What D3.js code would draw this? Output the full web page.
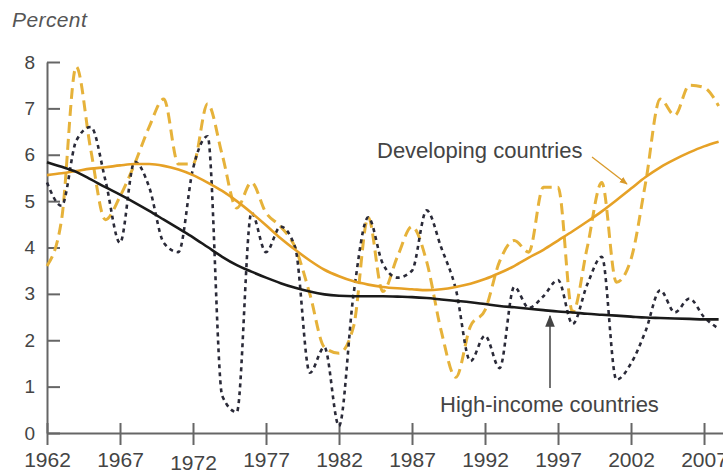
<!DOCTYPE html>
<html><head><meta charset="utf-8">
<script src="https://cdn.jsdelivr.net/npm/d3@7"></script>
<style>
html,body{margin:0;padding:0;background:#fff;}
svg{display:block;font-family:"Liberation Sans",Arial,Helvetica,sans-serif;}
</style></head>
<body><svg id="chart" width="723" height="475"></svg>
<script>
const years = d3.range(1962, 2009);
const developing = [3.6,4.6,7.9,6.1,4.6,5.1,5.8,6.6,7.2,5.8,5.8,7.1,6.0,4.85,5.4,4.75,4.45,4.0,3.0,1.85,1.72,2.3,4.65,3.05,3.8,4.45,3.7,2.2,1.2,2.3,2.65,3.7,4.15,3.9,5.3,5.3,2.6,4.0,5.4,3.25,3.75,5.4,7.2,6.85,7.5,7.45,7.05];
const highIncome = [5.4,4.9,6.3,6.6,5.45,4.1,5.85,5.3,4.1,3.9,5.7,6.4,0.8,0.45,4.75,3.9,4.45,4.0,1.3,1.85,0.15,3.0,4.65,3.65,3.35,3.5,4.8,4.0,3.1,1.55,2.1,1.4,3.15,2.7,2.95,3.3,2.35,3.2,3.8,1.15,1.5,2.2,3.08,2.6,2.9,2.5,2.25];
const developingTrend = [5.56,5.6,5.65,5.7,5.73,5.77,5.8,5.8,5.76,5.68,5.56,5.4,5.22,5.0,4.75,4.48,4.2,3.95,3.72,3.52,3.38,3.27,3.2,3.15,3.12,3.1,3.08,3.1,3.15,3.22,3.32,3.45,3.6,3.78,3.95,4.15,4.35,4.56,4.78,5.02,5.27,5.52,5.73,5.9,6.05,6.18,6.28];
const highTrend = [5.84,5.74,5.63,5.47,5.3,5.14,4.97,4.79,4.6,4.41,4.22,4.01,3.8,3.62,3.48,3.35,3.23,3.13,3.05,2.99,2.96,2.95,2.95,2.95,2.94,2.93,2.91,2.88,2.85,2.82,2.78,2.74,2.71,2.68,2.65,2.62,2.6,2.57,2.55,2.53,2.51,2.49,2.48,2.47,2.46,2.45,2.45];
const xTicks = [1962,1967,1972,1977,1982,1987,1992,1997,2002,2007];
const yTicks = [0,1,2,3,4,5,6,7,8];

const svg = d3.select("#chart");
const x = d3.scaleLinear().domain([1962, 2008.3]).range([47, 723]);
const y = d3.scaleLinear().domain([0, 8]).range([433, 62]);
const axisColor = "#666";

// y axis
const ya = svg.append("g").attr("transform","translate(47,0)")
  .call(d3.axisLeft(y).tickValues(yTicks).tickFormat(d3.format("d")).tickSize(-13).tickSizeOuter(0).tickPadding(12));
ya.select(".domain").attr("stroke",axisColor).attr("stroke-width",2);
ya.selectAll(".tick line").attr("stroke",axisColor).attr("stroke-width",2);
ya.selectAll(".tick text").attr("fill","#444").attr("font-size",19);

// x axis
const xa = svg.append("g").attr("transform","translate(0,433)")
  .call(d3.axisBottom(x).tickValues(xTicks).tickFormat(d3.format("d")).tickSize(12).tickSizeOuter(0).tickPadding(7));
xa.select(".domain").attr("stroke",axisColor).attr("stroke-width",2);
xa.selectAll(".tick line").attr("stroke",axisColor).attr("stroke-width",2).attr("y1",-10);
xa.selectAll(".tick text").attr("fill","#444").attr("font-size",21)
  .attr("dy", d => d === 1972 ? "0.86em" : "0.72em");

const line = arr => d3.line().x((d,i)=>x(years[i])).y(d=>y(d)).curve(d3.curveMonotoneX)(arr);

// developing series (dashed)
svg.append("path").attr("d", line(developing)).attr("fill","none")
  .attr("stroke","#E6B23A").attr("stroke-width",3).attr("stroke-dasharray","11,6");
// high income series (dotted)
svg.append("path").attr("d", line(highIncome)).attr("fill","none")
  .attr("stroke","#2a2a38").attr("stroke-width",2.6).attr("stroke-dasharray","4,4");
// trends
svg.append("path").attr("d", line(developingTrend)).attr("fill","none")
  .attr("stroke","#E6A126").attr("stroke-width",2.6);
svg.append("path").attr("d", line(highTrend)).attr("fill","none")
  .attr("stroke","#1a1a1a").attr("stroke-width",2.6);

// arrows
const defs = svg.append("defs");
defs.append("marker").attr("id","arrOr").attr("viewBox","0 0 10 10").attr("refX",9).attr("refY",5)
  .attr("markerWidth",8).attr("markerHeight",8).attr("markerUnits","userSpaceOnUse").attr("orient","auto")
  .append("path").attr("d","M0,1 L10,5 L0,9 Z").attr("fill","#D99A2B");
defs.append("marker").attr("id","arrGr").attr("viewBox","0 0 10 10").attr("refX",9).attr("refY",5)
  .attr("markerWidth",12).attr("markerHeight",12).attr("markerUnits","userSpaceOnUse").attr("orient","auto")
  .append("path").attr("d","M0,1 L10,5 L0,9 Z").attr("fill","#444");

svg.append("line").attr("x1",592).attr("y1",157).attr("x2",627).attr("y2",184)
  .attr("stroke","#D99A2B").attr("stroke-width",1.3).attr("marker-end","url(#arrOr)");
svg.append("line").attr("x1",550).attr("y1",388).attr("x2",550).attr("y2",316)
  .attr("stroke","#444").attr("stroke-width",1.5).attr("marker-end","url(#arrGr)");

// labels
svg.append("text").attr("x",12).attr("y",27).text("Percent")
  .attr("font-style","italic").attr("font-size",21).attr("letter-spacing",0.4).attr("fill","#555");
svg.append("text").attr("x",377).attr("y",158).text("Developing countries")
  .attr("font-size",22).attr("fill","#444");
svg.append("text").attr("x",440).attr("y",412).text("High-income countries")
  .attr("font-size",22).attr("fill","#444");
</script></body></html>
